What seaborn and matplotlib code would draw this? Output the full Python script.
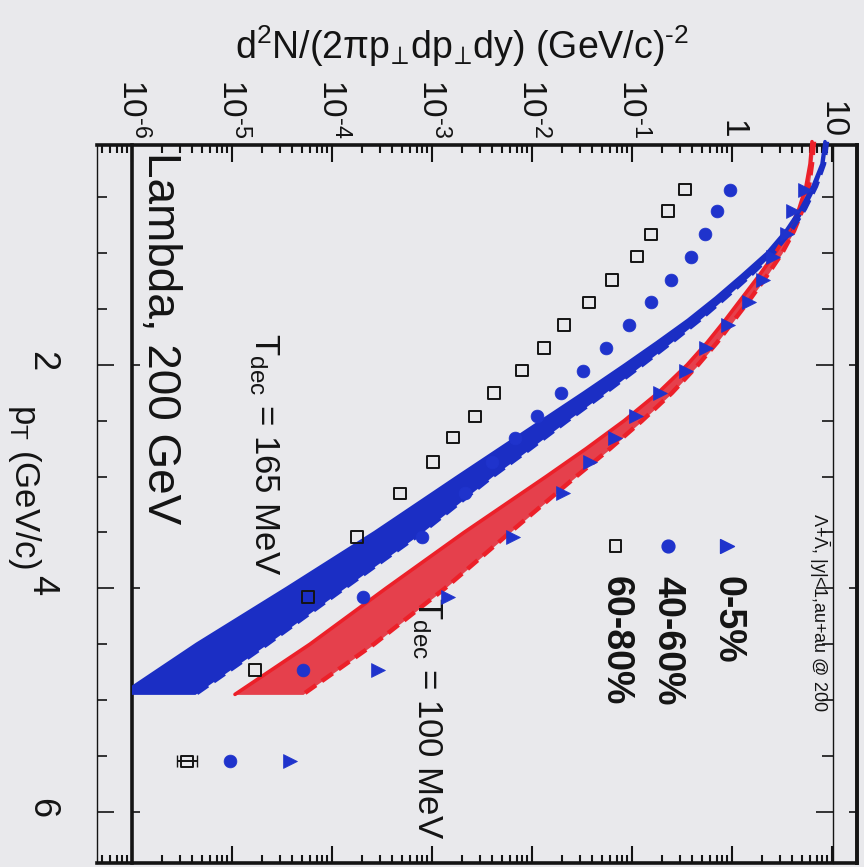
import numpy as np
import matplotlib
matplotlib.use("Agg")
import matplotlib.pyplot as plt
import matplotlib.ticker as mticker
from matplotlib.patches import Rectangle
import seaborn as sns

# ------------------------------------------------------------
# values read off the (rotated) picture; yields kept as log10
# ------------------------------------------------------------
pt_points = [0.43, 0.62, 0.83, 1.03, 1.24, 1.44, 1.64, 1.85, 2.05,
             2.25, 2.46, 2.65, 2.87, 3.15, 3.54, 4.08, 4.73, 5.55]
cent_0_5_log = [0.73, 0.61, 0.55, 0.41, 0.31, 0.17, -0.04, -0.26, -0.46,
                -0.72, -0.96, -1.17, -1.42, -1.69, -2.19, -2.84, -3.54, -4.42]
cent_40_60_log = [-0.02, -0.15, -0.27, -0.41, -0.61, -0.81, -1.03, -1.26, -1.49,
                  -1.71, -1.95, -2.17, -2.40, -2.67, -3.10, -3.69, -4.29, -5.02]
cent_60_80_log = [-0.47, -0.64, -0.81, -0.95, -1.20, -1.43, -1.68, -1.88, -2.10,
                  -2.38, -2.57, -2.79, -2.99, -3.32, -3.75, -4.24, -4.77, -5.45]
last_err_60_80 = [0.7e-6, 0.9e-6]

band_pt = [0.0, 0.2, 0.4, 0.6, 0.8, 1.0, 1.2, 1.4, 1.6, 1.8,
           2.0, 2.25, 2.5, 2.75, 3.0, 3.5, 4.0, 4.5, 4.95]
t165_solid_log = [0.93, 0.90, 0.81, 0.69, 0.54, 0.35, 0.10, -0.16, -0.44, -0.75,
                  -1.07, -1.48, -1.90, -2.32, -2.74, -3.57, -4.45, -5.35, -6.10]
t165_dashed_log = [0.95, 0.92, 0.84, 0.73, 0.59, 0.41, 0.18, -0.07, -0.33, -0.61,
                   -0.90, -1.27, -1.65, -2.02, -2.40, -3.10, -3.88, -4.65, -5.37]
t100_solid_log = [0.80, 0.78, 0.74, 0.67, 0.57, 0.43, 0.27, 0.10, -0.07, -0.25,
                  -0.45, -0.74, -1.08, -1.46, -1.86, -2.68, -3.46, -4.22, -4.97]
t100_dashed_log = [0.82, 0.80, 0.77, 0.71, 0.62, 0.50, 0.35, 0.19, 0.02, -0.15,
                   -0.34, -0.60, -0.90, -1.22, -1.56, -2.22, -2.87, -3.58, -4.29]

yield_ticks = [1e-6, 1e-5, 1e-4, 1e-3, 1e-2, 1e-1, 1, 10]
yield_tick_labels = [r"10$^{\text{-6}}$", r"10$^{\text{-5}}$", r"10$^{\text{-4}}$",
                     r"10$^{\text{-3}}$", r"10$^{\text{-2}}$", r"10$^{\text{-1}}$",
                     "1", "10"]
pt_ticks = [2, 4, 6]
pt_tick_labels = ["2", "4", "6"]

legend_labels = ["0-5%", "40-60%", "60-80%"]

# ------------------------------------------------------------
BG = "#e9e9ec"
BLUE = "#1b2ec4"
BLUE_PT = "#1f33cc"
RED_FILL = "#e5404c"
RED_LINE = "#ec2029"
INK = "#141414"

sns.set_theme(style="ticks")
plt.rcParams['font.family'] = ['Liberation Sans', 'DejaVu Sans']
plt.rcParams['mathtext.fontset'] = 'custom'
plt.rcParams['mathtext.rm'] = 'Liberation Sans'
plt.rcParams['mathtext.it'] = 'Liberation Sans:italic'
plt.rcParams['mathtext.bf'] = 'Liberation Sans:bold'
plt.rcParams['mathtext.default'] = 'regular'
plt.rcParams['text.color'] = INK

W, H = 864, 867
fig = plt.figure(figsize=(W / 100, H / 100), dpi=100, facecolor=BG)
ax = fig.add_axes([97 / W, 4 / H, 760 / W, 718 / H], facecolor=BG)
ax.set_xscale('log')

# the model bands stop at the 10^-6 frame line of the original plot
frame_clip = Rectangle((1e-6, -1), 1e3, 10, transform=ax.transData)

bands = [
    (t100_solid_log, t100_dashed_log, RED_FILL, RED_LINE),
    (t165_solid_log, t165_dashed_log, BLUE, BLUE),
]
for lo_log, hi_log, fill_c, line_c in bands:
    lo = 10 ** np.array(lo_log)
    hi = 10 ** np.array(hi_log)
    poly = ax.fill_betweenx(band_pt, lo, hi, color=fill_c, lw=0, zorder=2)
    poly.set_clip_path(frame_clip)
    sns.lineplot(x=lo, y=band_pt, sort=False, color=line_c, lw=2.6,
                 ax=ax, zorder=3)
    ax.lines[-1].set_clip_path(frame_clip)
    sns.lineplot(x=hi, y=band_pt, sort=False, color=line_c, lw=3.2,
                 linestyle=(0, (3, 1.6)), ax=ax, zorder=3)
    ax.lines[-1].set_clip_path(frame_clip)

# data points
y_60_80 = 10 ** np.array(cent_60_80_log)
sns.scatterplot(x=10 ** np.array(cent_0_5_log), y=pt_points, marker='>',
                s=100, color=BLUE_PT, edgecolor=BLUE_PT, linewidth=0.5,
                ax=ax, zorder=5)
sns.scatterplot(x=10 ** np.array(cent_40_60_log), y=pt_points, marker='o',
                s=85, color=BLUE_PT, edgecolor=BLUE_PT, linewidth=0.5,
                ax=ax, zorder=5)
sns.scatterplot(x=y_60_80, y=pt_points, marker='s', s=70, color=INK,
                facecolor='none', edgecolor=INK, linewidth=1.4,
                ax=ax, zorder=5)
ax.errorbar([y_60_80[-1]], [pt_points[-1]],
            xerr=[[last_err_60_80[0]], [last_err_60_80[1]]],
            fmt='none', ecolor=INK, elinewidth=1.4, capsize=4, zorder=5)

# axes ranges
ax.set_xlim(10 ** -6.35, 10 ** 1.25)
ax.set_ylim(6.46, 0.03)

# log axis (top / bottom)
ax.xaxis.set_major_locator(mticker.FixedLocator(yield_ticks))
ax.xaxis.set_major_formatter(mticker.FixedFormatter(yield_tick_labels))
ax.xaxis.set_minor_locator(mticker.LogLocator(base=10, subs=np.arange(2, 10) * 1.0, numticks=30))
ax.xaxis.set_minor_formatter(mticker.NullFormatter())
ax.tick_params(axis='x', which='both', direction='in', top=True, bottom=True,
               labeltop=True, labelbottom=False, labelrotation=-90,
               labelsize=24, pad=5, width=1.5, color=INK, labelcolor=INK)
ax.tick_params(axis='x', which='major', length=12)
ax.tick_params(axis='x', which='minor', length=6)

# pT axis (left)
ax.yaxis.set_major_locator(mticker.FixedLocator(pt_ticks))
ax.yaxis.set_major_formatter(mticker.FixedFormatter(pt_tick_labels))
ax.yaxis.set_minor_locator(mticker.MultipleLocator(0.5))
ax.tick_params(axis='y', which='both', direction='in', left=True, right=False,
               labelleft=True, labelright=False, labelrotation=-90,
               labelsize=26, pad=27, width=1.2, color=INK, labelcolor=INK)
ax.tick_params(axis='y', which='major', length=12)
ax.tick_params(axis='y', which='minor', length=7)

for side, lw in [('top', 2.6), ('bottom', 2.6), ('right', 2.6), ('left', 1.0)]:
    ax.spines[side].set_linewidth(lw)
    ax.spines[side].set_color(INK)

# inner frame lines of the overlaid plot
thin_r = ax.secondary_yaxis((833 - 97) / 760)
thick_l = ax.secondary_yaxis((132 - 97) / 760)
outer_r = ax.secondary_yaxis('right')
for sec, lw, maj, mino in [(thin_r, 1.0, 12, 8), (thick_l, 2.6, 6, 0), (outer_r, 2.6, 6, 0)]:
    sec.yaxis.set_major_locator(mticker.FixedLocator(pt_ticks))
    if mino:
        sec.yaxis.set_minor_locator(mticker.MultipleLocator(0.5))
    else:
        sec.yaxis.set_minor_locator(mticker.NullLocator())
    sec.yaxis.set_major_formatter(mticker.NullFormatter())
    sec.tick_params(axis='y', which='both', direction='in', width=1.2, color=INK)
    sec.tick_params(axis='y', which='major', length=maj)
    sec.tick_params(axis='y', which='minor', length=mino)
    for sp in sec.spines.values():
        sp.set_linewidth(lw)
        sp.set_color(INK)

# axis titles
ax.set_xlabel(r"d$^2$N/(2$\pi$p$_{\!\bot\!}$dp$_{\!\bot\!}$dy) (GeV/c)$^{\text{-2}}$",
              fontsize=27, color=INK)
ax.xaxis.set_label_position('top')
ax.xaxis.label.set_va('center')
ax.xaxis.set_label_coords(0.48, 1.138)
ax.set_ylabel("p$_T$ (GeV/c)", fontsize=25, rotation=-90, color=INK)
ax.yaxis.label.set_va('center')
ax.yaxis.set_label_coords(-0.095, 0.525)

# annotations
ax.text(0.054, 0.990, "Lambda, 200 GeV", transform=ax.transAxes,
        rotation=-90, ha='left', va='top', fontsize=33)
ax.text(0.197, 0.738, "T$_{dec}$ = 165 MeV", transform=ax.transAxes,
        rotation=-90, ha='left', va='top', fontsize=25)
ax.text(0.412, 0.370, "T$_{dec}$ = 100 MeV", transform=ax.transAxes,
        rotation=-90, ha='left', va='top', fontsize=25)

# hand-made rotated legend
ax.text(0.934, 0.487, r"$\Lambda$+$\bar{\Lambda}$, |y|<1,au+au @ 200",
        transform=ax.transAxes, rotation=-90, ha='left', va='top', fontsize=13)
leg_x = [0.829, 0.751, 0.682]
leg_styles = [dict(marker='>', s=100, c=BLUE_PT),
              dict(marker='o', s=85, c=BLUE_PT),
              dict(marker='s', s=70, facecolors='none', edgecolors=INK, linewidths=1.4)]
for lx, lab, st in zip(leg_x, legend_labels, leg_styles):
    ax.scatter([lx], [0.4415], transform=ax.transAxes, zorder=6, **st)
    ax.text(lx, 0.400, lab, transform=ax.transAxes, rotation=-90,
            ha='center', va='top', fontsize=27, fontweight='bold')

fig.savefig("out.png", dpi=100, facecolor=BG)
